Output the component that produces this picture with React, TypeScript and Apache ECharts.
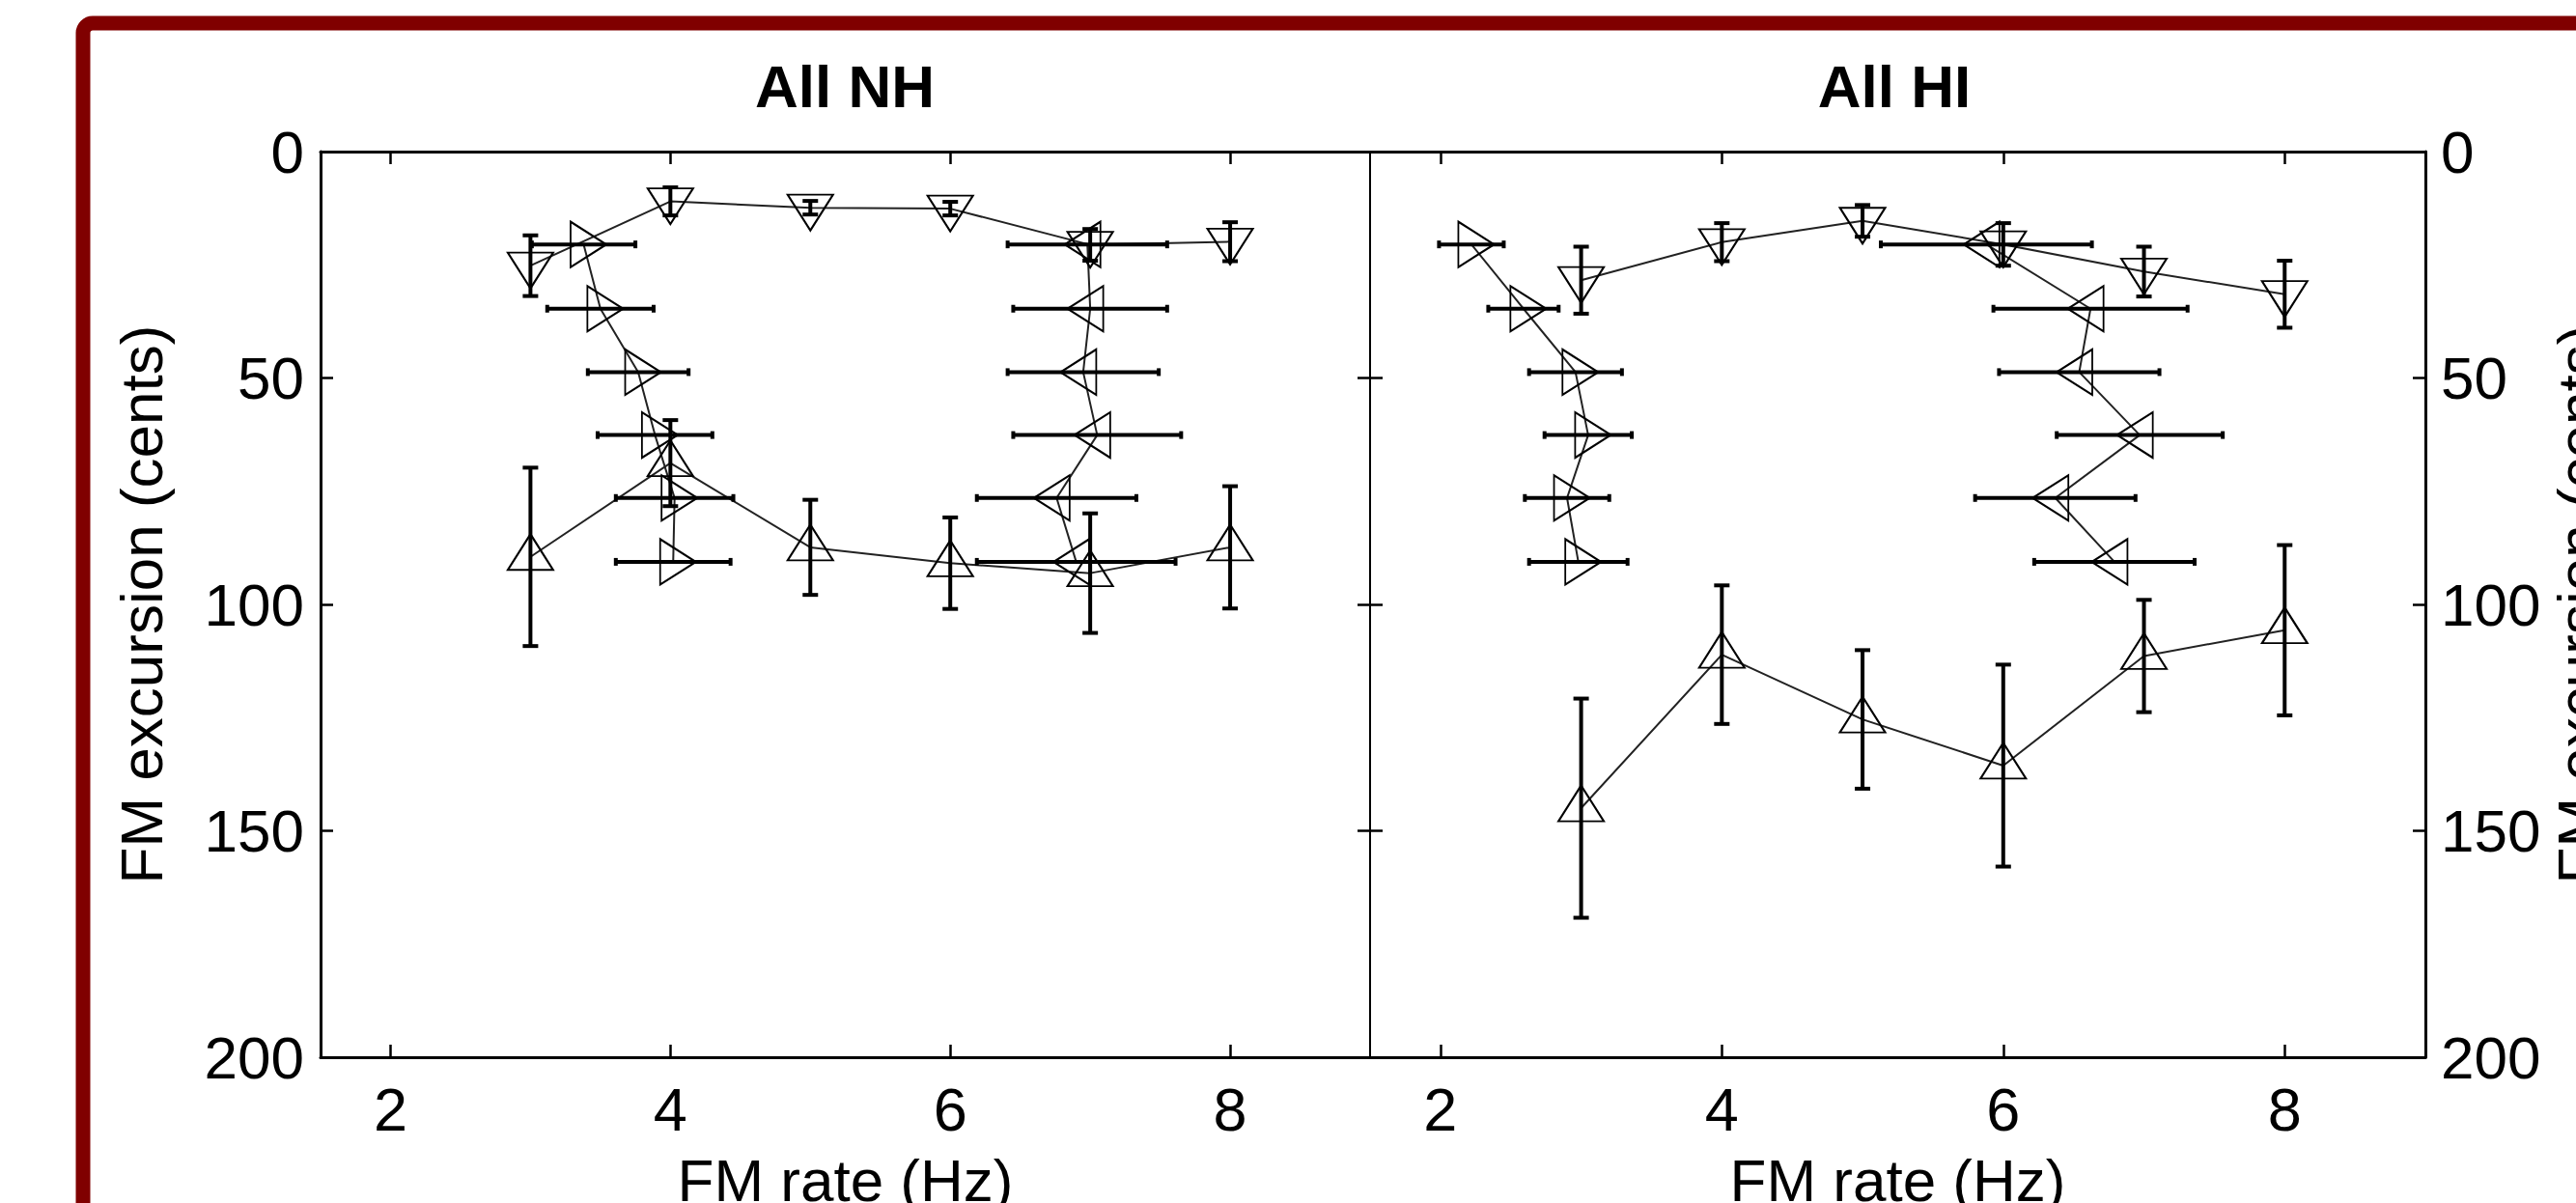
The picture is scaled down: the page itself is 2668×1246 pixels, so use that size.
import React, { useEffect, useRef } from 'react';
import * as echarts from 'echarts';

// ---- data ----
const rates = [3, 4, 5, 6, 7, 8];
const excursions = [20.5, 34.7, 48.7, 62.6, 76.5, 90.6];
const xTickValues = [2, 4, 6, 8];
const panelTitles = ['All NH', 'All HI'];

// All NH
const nhDownY = [25.2, 11.0, 12.4, 12.6, 20.6, 19.9];
const nhDownErr = [6.7, 3.1, 1.5, 1.5, 3.5, 4.3];
const nhRightX = [3.38, 3.5, 3.77, 3.89, 4.03, 4.02];
const nhRightErr = [0.37, 0.38, 0.36, 0.41, 0.42, 0.41];
const nhLeftX = [6.98, 7.0, 6.95, 7.05, 6.76, 6.9];
const nhLeftErr = [0.57, 0.55, 0.54, 0.6, 0.57, 0.71];
const nhUpY = [89.5, 68.8, 87.4, 90.9, 93.1, 87.4];
const nhUpErr = [19.7, 9.5, 10.5, 10.1, 13.2, 13.5];

// All HI
const hiDownY = [28.4, 20.0, 15.3, 20.5, 26.5, 31.5];
const hiDownErr = [7.4, 4.2, 3.5, 4.7, 5.5, 7.4];
const hiRightX = [2.22, 2.59, 2.96, 3.05, 2.9, 2.98];
const hiRightErr = [0.23, 0.25, 0.33, 0.31, 0.3, 0.35];
const hiLeftX = [5.88, 6.62, 6.54, 6.97, 6.37, 6.79];
const hiLeftErr = [0.75, 0.69, 0.57, 0.59, 0.57, 0.57];
const hiUpY = [145.0, 111.1, 125.4, 135.6, 111.4, 105.7];
const hiUpErr = [24.2, 15.3, 15.3, 22.3, 12.4, 18.8];

const FONT = "'Liberation Sans', Arial, Helvetica, sans-serif";
const W = 2668;
const H = 1246;

const barStyle = { stroke: '#000', lineWidth: 4 };

function vBar(params: any, api: any) {
  const x = api.value(0);
  const y = api.value(1);
  const e = api.value(2);
  const p1 = api.coord([x, y - e]);
  const p2 = api.coord([x, y + e]);
  const c = 8;
  return {
    type: 'group',
    children: [
      { type: 'line', shape: { x1: p1[0], y1: p1[1], x2: p2[0], y2: p2[1] }, style: barStyle },
      { type: 'line', shape: { x1: p1[0] - c, y1: p1[1], x2: p1[0] + c, y2: p1[1] }, style: barStyle },
      { type: 'line', shape: { x1: p2[0] - c, y1: p2[1], x2: p2[0] + c, y2: p2[1] }, style: barStyle },
    ],
  };
}

function hBar(params: any, api: any) {
  const x = api.value(0);
  const y = api.value(1);
  const e = api.value(2);
  const p1 = api.coord([x - e, y]);
  const p2 = api.coord([x + e, y]);
  const c = 4;
  return {
    type: 'group',
    children: [
      { type: 'line', shape: { x1: p1[0], y1: p1[1], x2: p2[0], y2: p2[1] }, style: barStyle },
      { type: 'line', shape: { x1: p1[0], y1: p1[1] - c, x2: p1[0], y2: p1[1] + c }, style: barStyle },
      { type: 'line', shape: { x1: p2[0], y1: p2[1] - c, x2: p2[0], y2: p2[1] + c }, style: barStyle },
    ],
  };
}

const TRI: [number, number] = [47, 37];
const OFF = 5;

function lineSeries(data: number[][], rotate: number, offset: [number, number], axis: number) {
  return {
    type: 'line',
    xAxisIndex: axis * 2,
    yAxisIndex: axis * 2,
    data,
    symbol: 'triangle',
    symbolSize: TRI,
    symbolRotate: rotate,
    symbolOffset: offset,
    showAllSymbol: true,
    lineStyle: { color: '#222', width: 2 },
    itemStyle: { color: 'rgba(0,0,0,0)', borderColor: '#000', borderWidth: 2 },
    emphasis: { disabled: true },
    silent: true,
    z: 2,
  };
}

function barSeries(data: number[][], vertical: boolean, axis: number) {
  return {
    type: 'custom',
    xAxisIndex: axis * 2,
    yAxisIndex: axis * 2,
    data,
    encode: { x: 0, y: 1 },
    renderItem: vertical ? vBar : hBar,
    silent: true,
    z: 3,
  };
}

function panelSeries(
  downY: number[], downErr: number[],
  rightX: number[], rightErr: number[],
  leftX: number[], leftErr: number[],
  upY: number[], upErr: number[],
  axis: number,
) {
  return [
    lineSeries(rates.map((r, i) => [r, downY[i]]), 180, [0, OFF], axis),
    lineSeries(excursions.map((e, i) => [rightX[i], e]), -90, [OFF, 0], axis),
    lineSeries(excursions.map((e, i) => [leftX[i], e]), 90, [-OFF, 0], axis),
    lineSeries(rates.map((r, i) => [r, upY[i]]), 0, [0, -OFF], axis),
    barSeries(rates.map((r, i) => [r, downY[i], downErr[i]]), true, axis),
    barSeries(excursions.map((e, i) => [rightX[i], e, rightErr[i]]), false, axis),
    barSeries(excursions.map((e, i) => [leftX[i], e, leftErr[i]]), false, axis),
    barSeries(rates.map((r, i) => [r, upY[i], upErr[i]]), true, axis),
  ];
}

function xAxes(gridIndex: number) {
  const common = {
    type: 'value',
    gridIndex,
    min: 1.5,
    max: 9,
    splitLine: { show: false },
    axisLine: { show: true, onZero: false, lineStyle: { color: '#000', width: 3 } },
    axisTick: { show: true, inside: true, length: 13, customValues: xTickValues, lineStyle: { color: '#000', width: 2.5 } },
  };
  return [
    {
      ...common,
      position: 'bottom',
      axisLabel: { show: true, customValues: xTickValues, fontSize: 63, color: '#000', fontFamily: FONT, margin: 22 },
      name: 'FM rate (Hz)',
      nameLocation: 'middle',
      nameGap: 96,
      nameTextStyle: { fontSize: 62, color: '#000', fontFamily: FONT },
    },
    {
      ...common,
      position: 'top',
      axisLabel: { show: false },
    },
  ];
}

function yAxes(gridIndex: number, labelSide: 'left' | 'right') {
  const common = {
    type: 'value',
    gridIndex,
    min: 0,
    max: 200,
    interval: 50,
    inverse: true,
    splitLine: { show: false },
    axisTick: { show: true, inside: true, length: 13, lineStyle: { color: '#000', width: 2.5 } },
  };
  const labelled = {
    ...common,
    position: labelSide,
    axisLine: { show: true, onZero: false, lineStyle: { color: '#000', width: 3 } },
    axisLabel: { show: true, fontSize: 62, color: '#000', fontFamily: FONT, margin: labelSide === 'left' ? 17 : 16 },
    name: 'FM excursion (cents)',
    nameLocation: 'middle',
    nameRotate: 90,
    nameGap: labelSide === 'left' ? 155 : 127,
    nameTextStyle: { fontSize: 62, color: '#000', fontFamily: FONT },
  };
  const plain = {
    ...common,
    position: labelSide === 'left' ? 'right' : 'left',
    axisLine: { show: true, onZero: false, lineStyle: { color: '#000', width: 2 } },
    axisLabel: { show: false },
  };
  return labelSide === 'left' ? [labelled, plain] : [plain, labelled];
}

export default function App() {
  const ref = useRef<HTMLDivElement>(null);

  useEffect(() => {
    if (!ref.current) return;
    const chart = echarts.init(ref.current, null, { renderer: 'svg', width: W, height: H });
    const option = {
      animation: false,
      backgroundColor: '#fff',
      title: [
        {
          text: panelTitles[0], left: 875, top: 58, padding: 0,
          textAlign: 'center', textVerticalAlign: 'top',
          textStyle: { fontSize: 62, fontWeight: 'bold', color: '#000', fontFamily: FONT },
        },
        {
          text: panelTitles[1], left: 1962, top: 58, padding: 0,
          textAlign: 'center', textVerticalAlign: 'top',
          textStyle: { fontSize: 62, fontWeight: 'bold', color: '#000', fontFamily: FONT },
        },
      ],
      graphic: [
        {
          type: 'rect',
          shape: { x: 86, y: 24, width: 3000, height: 2000, r: 10 },
          style: { fill: 'none', stroke: '#800000', lineWidth: 15 },
          silent: true,
          z: 0,
        },
      ],
      grid: [
        { left: 332, top: 157, width: 1087, height: 938, containLabel: false, outerBoundsMode: 'none' },
        { left: 1419, top: 157, width: 1093, height: 938, containLabel: false, outerBoundsMode: 'none' },
      ],
      xAxis: [...xAxes(0), ...xAxes(1)],
      yAxis: [...yAxes(0, 'left'), ...yAxes(1, 'right')],
      series: [
        ...panelSeries(nhDownY, nhDownErr, nhRightX, nhRightErr, nhLeftX, nhLeftErr, nhUpY, nhUpErr, 0),
        ...panelSeries(hiDownY, hiDownErr, hiRightX, hiRightErr, hiLeftX, hiLeftErr, hiUpY, hiUpErr, 1),
      ],
    };
    chart.setOption(option as any);
    return () => chart.dispose();
  }, []);

  return (
    <div
      ref={ref}
      style={{ position: 'fixed', left: 0, top: 0, width: W, height: H, background: '#fff' }}
    />
  );
}
